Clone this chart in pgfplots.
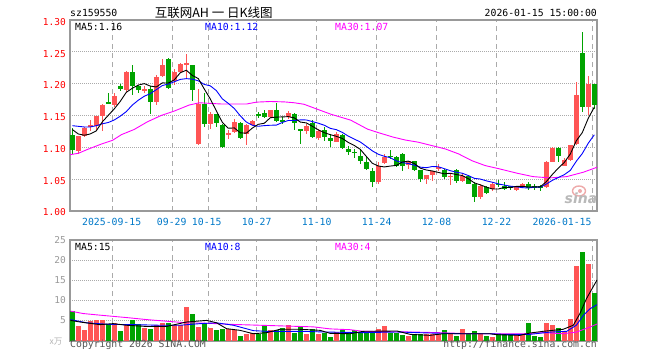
\documentclass[border=0pt]{standalone}
\usepackage{pgfplots}
\pgfplotsset{compat=1.18}
\usepackage{pgfplotstable}
\usepackage{fontspec}
\newfontfamily\mono{DejaVu Sans Mono}
\newfontfamily\cjk{Noto Sans CJK SC}
\newfontfamily\sinaf{DejaVu Sans}
\definecolor{cup}{RGB}{255,85,85}
\definecolor{cdn}{RGB}{0,163,0}
\definecolor{framec}{RGB}{153,153,153}
\definecolor{gridc}{RGB}{170,170,170}
\definecolor{xlab}{RGB}{0,120,200}
\definecolor{maten}{RGB}{0,0,255}
\definecolor{mathirty}{RGB}{255,0,255}
\definecolor{copyc}{RGB}{85,85,85}

\pgfplotstableread{
i o h l c v
-6 1.095 1.118 1.089 1.118 3.64
-5 1.118 1.132 1.116 1.131 2.64
-4 1.133 1.143 1.126 1.135 4.88
-3 1.134 1.150 1.128 1.1495 5.12
-2 1.1495 1.168 1.126 1.1667 5.12
0 1.166 1.185 1.164 1.180 4.46
2 1.190 1.220 1.187 1.218 4.13
5 1.1895 1.197 1.186 1.1912 3.22
7 1.1708 1.213 1.166 1.211 4.05
8 1.2125 1.2386 1.2110 1.2297 4.46
10 1.2047 1.223 1.1985 1.2188 4.05
11 1.2177 1.2330 1.2170 1.2308 4.05
12 1.2305 1.2464 1.2089 1.2320 8.43
14 1.106 1.191 1.104 1.168 3.47
16 1.137 1.155 1.129 1.1527 3.22
19 1.1203 1.128 1.1125 1.1218 2.89
20 1.124 1.144 1.122 1.1395 2.81
22 1.1203 1.137 1.103 1.1355 1.82
23 1.1344 1.1422 1.1336 1.1406 2.07
26 1.1474 1.1588 1.1462 1.158 2.64
29 1.1474 1.157 1.145 1.1536 3.88
32 1.125 1.1365 1.121 1.1339 1.65
34 1.1146 1.1286 1.1115 1.125 1.65
37 1.109 1.1234 1.1078 1.1208 2.23
44 1.045 1.0766 1.0417 1.0714 2.89
45 1.076 1.0896 1.0740 1.0844 3.72
49 1.0729 1.0790 1.0660 1.0790 1.16
52 1.0495 1.0573 1.0417 1.0573 1.65
53 1.0568 1.0635 1.0469 1.0635 1.65
54 1.0670 1.0740 1.0635 1.0685 1.65
56 1.0535 1.0594 1.0401 1.0550 1.65
58 1.0469 1.0594 1.0453 1.0557 3.06
61 1.0219 1.0417 1.0182 1.0385 1.65
63 1.0339 1.0453 1.0313 1.0417 0.91
67 1.0323 1.0380 1.0307 1.0375 1.40
68 1.0375 1.0438 1.0365 1.0427 1.65
72 1.0375 1.0792 1.0365 1.0776 4.46
73 1.0776 1.1000 1.0766 1.099 3.97
75 1.0714 1.0828 1.0703 1.0802 2.56
76 1.0802 1.1036 1.0786 1.1036 5.37
77 1.1052 1.2026 1.1042 1.1818 18.6
79 1.164 1.212 1.1505 1.20 19.0
}\up

\pgfplotstableread{
i o h l c v
-7 1.120 1.130 1.090 1.096 7.36
-1 1.1708 1.186 1.168 1.1690 4.13
1 1.197 1.199 1.188 1.191 2.40
3 1.2177 1.2297 1.183 1.197 5.29
4 1.197 1.198 1.186 1.1906 4.13
6 1.1917 1.196 1.1527 1.172 2.89
9 1.2395 1.2400 1.191 1.193 4.46
13 1.2297 1.2300 1.1734 1.1906 6.61
15 1.1683 1.185 1.132 1.137 4.13
17 1.1516 1.153 1.132 1.1386 2.64
18 1.1355 1.137 1.099 1.1005 3.06
21 1.138 1.140 1.1135 1.1145 1.24
24 1.1518 1.1557 1.1453 1.1503 1.82
25 1.1536 1.1588 1.1462 1.1474 3.72
27 1.159 1.169 1.1396 1.1406 2.64
28 1.1427 1.1474 1.137 1.1412 3.22
30 1.1530 1.1547 1.127 1.1375 1.98
31 1.1286 1.1286 1.106 1.125 3.64
33 1.139 1.1427 1.1146 1.1156 3.06
35 1.127 1.1313 1.1094 1.1156 1.98
36 1.1146 1.1208 1.1010 1.1094 0.99
38 1.1198 1.1208 1.0974 1.099 2.64
39 1.0974 1.1026 1.0885 1.0932 2.07
40 1.0930 1.0974 1.0833 1.0915 2.64
41 1.0865 1.0974 1.0740 1.079 2.23
42 1.077 1.0844 1.0640 1.066 2.23
43 1.0635 1.0677 1.0375 1.045 2.23
46 1.0870 1.0958 1.0820 1.0855 1.98
47 1.0844 1.0870 1.0688 1.0714 1.98
48 1.0896 1.0906 1.0630 1.0714 1.40
50 1.079 1.0790 1.0635 1.065 1.65
51 1.0646 1.0646 1.0453 1.0495 1.65
55 1.0646 1.0662 1.0495 1.0542 2.64
57 1.0646 1.0662 1.0443 1.0469 1.16
59 1.0557 1.0573 1.0417 1.0427 1.65
60 1.0417 1.0453 1.0140 1.0219 2.40
62 1.0375 1.0391 1.0261 1.0286 1.16
64 1.0425 1.0490 1.0375 1.0410 1.65
65 1.040 1.0453 1.0323 1.035 1.65
66 1.039 1.040 1.0323 1.037 1.40
69 1.0427 1.0453 1.0323 1.0365 4.46
70 1.0391 1.0417 1.0323 1.036 1.16
71 1.0385 1.0401 1.0313 1.0370 0.91
74 1.099 1.1000 1.0776 1.087 3.14
78 1.2474 1.2807 1.1557 1.1635 22.07
80 1.199 1.200 1.160 1.1667 11.82
}\down

\pgfplotstableread{
i m
-7 1.128
-6 1.121
-5 1.119
-4 1.121
-3 1.1259
-2 1.1400
-1 1.1503
0 1.1605
1 1.1723
2 1.1864
3 1.1928
4 1.1978
5 1.2001
6 1.1962
7 1.1948
8 1.2012
9 1.2010
10 1.2060
11 1.2172
12 1.2211
13 1.2130
14 1.2080
15 1.1916
16 1.1760
17 1.1574
18 1.1394
19 1.1300
20 1.1305
21 1.1228
22 1.1222
23 1.1302
24 1.1362
25 1.1378
26 1.1465
27 1.1475
28 1.1478
29 1.1482
30 1.1463
31 1.1397
32 1.1384
33 1.1331
34 1.1275
35 1.1230
36 1.1199
37 1.1173
38 1.1140
39 1.1076
40 1.1029
41 1.0968
42 1.0858
43 1.0750
44 1.0707
45 1.0692
46 1.0706
47 1.0716
48 1.0769
49 1.0784
50 1.0746
51 1.0673
52 1.0644
53 1.0629
54 1.0606
55 1.0584
56 1.0593
57 1.0573
58 1.0557
59 1.0507
60 1.0442
61 1.0411
62 1.0375
63 1.0347
64 1.0345
65 1.0371
66 1.0368
67 1.0386
68 1.0388
69 1.0377
70 1.0379
71 1.0380
72 1.0461
73 1.0573
74 1.0674
75 1.0763
76 1.0895
77 1.1103
78 1.1232
79 1.1458
80 1.1631
}\mafive

\pgfplotstableread{
i m
-7 1.134
-6 1.133
-5 1.132
-4 1.132
-3 1.134
-2 1.137
-1 1.139
0 1.143
1 1.149
2 1.1561
3 1.1664
4 1.1740
5 1.1803
6 1.1843
7 1.1906
8 1.1970
9 1.1994
10 1.2030
11 1.2067
12 1.2079
13 1.2071
14 1.2045
15 1.1988
16 1.1966
17 1.1892
18 1.1762
19 1.1690
20 1.1610
21 1.1494
22 1.1398
23 1.1348
24 1.1331
25 1.1341
26 1.1347
27 1.1349
28 1.1390
29 1.1422
30 1.1421
31 1.1431
32 1.1430
33 1.1405
34 1.1379
35 1.1347
36 1.1298
37 1.1278
38 1.1235
39 1.1176
40 1.1130
41 1.1084
42 1.1016
43 1.0945
44 1.0891
45 1.0860
46 1.0837
47 1.0787
48 1.0760
49 1.0746
50 1.0719
51 1.0689
52 1.0680
53 1.0699
54 1.0695
55 1.0665
56 1.0633
57 1.0609
58 1.0593
59 1.0557
60 1.0513
61 1.0502
62 1.0474
63 1.0452
64 1.0426
65 1.0407
66 1.0390
67 1.0380
68 1.0367
69 1.0361
70 1.0375
71 1.0374
72 1.0423
73 1.0481
74 1.0526
75 1.0571
76 1.0638
77 1.0782
78 1.0903
79 1.1066
80 1.1197
}\maten

\pgfplotstableread{
i m
-7.38 1.0885
-6 1.0906
-4.5 1.0966
-2.2 1.105
-0.3 1.111
1.2 1.120
3.3 1.128
5.5 1.140
7.8 1.150
10 1.157
12.5 1.1665
14.2 1.170
16 1.169
18 1.168
20 1.168
22 1.168
23.7 1.171
26 1.172
28.3 1.1714
30 1.170
31.6 1.1677
33.8 1.160
36.1 1.152
39.4 1.1427
42.2 1.1286
43.9 1.1234
46.5 1.1160
48.5 1.1115
50.7 1.108
53 1.1026
55.2 1.0974
57.4 1.0896
59.6 1.079
61.8 1.0714
64.5 1.0655
67.1 1.0594
69.8 1.054
72.6 1.052
75.4 1.054
78.2 1.061
80.45 1.0687
}\mathirty

\pgfplotstableread{
i m
-7.3 5.1
-5.7 4.7
-2.4 4.05
-0.2 4.3
2.05 3.9
5.4 3.6
8.7 3.6
12.05 4.7
15.4 5.1
17.05 4.5
18.7 3.06
20.95 2.64
23.2 1.8
25.4 2.07
27.6 2.9
30.95 2.9
34.3 2.64
35.95 1.9
39.3 1.8
41.5 2.4
47.1 2.48
49.3 1.65
52.6 1.4
54.8 1.8
62.6 1.8
63.7 1.57
67.6 1.4
69.3 1.98
71.5 2.4
74.8 2.9
76.5 3.9
77.6 6.8
78.7 10.5
79.8 13.4
80.45 15.1
}\vfive

\pgfplotstableread{
i m
-7.3 5.3
-4.6 4.5
-0.7 4.1
3.2 4.05
7.6 3.9
10.95 3.9
14.3 4.3
17.05 4.5
19.85 3.9
23.2 2.56
25.4 2.4
30.95 2.4
35.95 2.2
41.5 2.07
47.1 2.23
52.6 1.98
58 1.8
62.6 1.8
65 1.65
69.3 1.65
72.6 2.2
75.4 2.4
77 3.9
78.2 6.4
79.3 8.0
80.45 9.0
}\vten

\pgfplotstableread{
i m
-7.3 7.4
-5.2 6.8
-2.4 6.4
2.05 5.8
5.4 5.3
8.7 4.9
12.05 4.5
15.4 4.4
19.85 4.1
24.3 3.9
28.7 3.7
33.2 3.5
35.95 3.0
39.3 2.8
41.5 2.4
49.5 2.23
54 2.07
59.3 1.8
68.2 1.8
71.5 2.07
74.8 1.8
77 2.2
79.3 3.47
80.45 4.2
}\vthirty

\pgfplotsset{
  kbase/.style={scale only axis, width=527pt, xmin=-7.383, xmax=80.45,
    axis line style={framec, line width=1.2pt},
    major tick length=0pt,
    xtick={-0.33,9.67,15.67,23.67,33.67,43.67,53.67,63.67,79.67},
    xticklabels={}, yticklabels={},
    xmajorgrids, ymajorgrids,
    x grid style={gridc, line width=1.2pt, dash pattern=on 5pt off 4pt},
    y grid style={gridc, line width=1pt, dash pattern=on 1pt off 1pt},
    clip=true},
  wick/.style={only marks, mark=*, mark size=0pt, mark options={draw=none, fill=none, opacity=0},
    error bars/.cd, y dir=both, y explicit, error mark=none,
    error bar style={line width=1pt, #1}},
  body/.style={only marks, mark=*, mark size=0pt, mark options={draw=none, fill=none, opacity=0},
    error bars/.cd, y dir=both, y explicit, error mark=none,
    error bar style={line width=5pt, #1}},
}

\begin{document}
\begin{tikzpicture}

% price panel
\begin{axis}[kbase, at={(70pt,149pt)}, anchor=south west, height=191pt,
  ymin=1.0, ymax=1.3, ytick={1.05,1.10,1.15,1.20,1.25}]
\addplot[wick=cup] table[x=i, y expr={(\thisrow{h}+\thisrow{l})/2}, y error expr={(\thisrow{h}-\thisrow{l})/2}] {\up};
\addplot[wick=cdn] table[x=i, y expr={(\thisrow{h}+\thisrow{l})/2}, y error expr={(\thisrow{h}-\thisrow{l})/2}] {\down};
\addplot[body=cup] table[x=i, y expr={(\thisrow{o}+\thisrow{c})/2}, y error expr={abs(\thisrow{c}-\thisrow{o})/2}] {\up};
\addplot[body=cdn] table[x=i, y expr={(\thisrow{o}+\thisrow{c})/2}, y error expr={abs(\thisrow{c}-\thisrow{o})/2}] {\down};
\addplot[mathirty, line width=0.9pt, mark=none] table[x=i,y=m] {\mathirty};
\addplot[maten, line width=0.9pt, mark=none] table[x=i,y=m] {\maten};
\addplot[black, line width=0.9pt, mark=none] table[x=i,y=m] {\mafive};
\end{axis}

% volume panel
\begin{axis}[kbase, at={(70pt,19pt)}, anchor=south west, height=101pt,
  ymin=0, ymax=25, ytick={5,10,15,20}]
\addplot[ycomb, cup, line width=5pt, mark=none] table[x=i,y=v] {\up};
\addplot[ycomb, cdn, line width=5pt, mark=none] table[x=i,y=v] {\down};
\addplot[mathirty, line width=0.9pt, mark=none] table[x=i,y=m] {\vthirty};
\addplot[maten, line width=0.9pt, mark=none] table[x=i,y=m] {\vten};
\addplot[black, line width=0.9pt, mark=none] table[x=i,y=m] {\vfive};
\end{axis}

% sina watermark
\draw[color={rgb,255:red,238;green,170;blue,170}, line width=1.4pt] (579pt,169pt) ellipse (6.5pt and 5pt);
\fill[color={rgb,255:red,238;green,170;blue,170}] (580pt,169pt) circle (2pt);
\node[anchor=base, inner sep=0, text=gray!55, font=\fontsize{14}{14}\sinaf\bfseries\itshape] at (581pt,156.7pt) {sina};

% header
\node[anchor=base west, inner sep=0, font=\fontsize{9.8}{10}\mono] at (70pt,343.3pt) {sz159550};
\node[anchor=base, inner sep=0, font=\fontsize{12.5}{13}\cjk] at (213.7pt,343pt) {互联网AH 一 日K线图};
\node[anchor=base east, inner sep=0, font=\fontsize{9.8}{10}\mono] at (597pt,343.3pt) {2026-01-15 15:00:00};

\node[anchor=base west, inner sep=0, font=\fontsize{9.8}{10}\mono] at (75pt,330pt) {MA5:1.16};
\node[anchor=base west, inner sep=0, font=\fontsize{9.8}{10}\mono, text=maten] at (205pt,330pt) {MA10:1.12};
\node[anchor=base west, inner sep=0, font=\fontsize{9.8}{10}\mono, text=mathirty] at (335pt,330pt) {MA30:1.07};

% price tick labels
\foreach \v/\y in {1.30/338, 1.25/306.3, 1.20/274.7, 1.15/242.7, 1.10/210.7, 1.05/178.7, 1.00/147.7}
  \node[anchor=east, inner sep=0, text=red, font=\fontsize{9.5}{10}\mono] at (66pt,\y pt) {\v};

% date labels
\foreach \t/\x in {2025-09-15/111.7, 09-29/171.7, 10-15/206.7, 10-27/256.7, 11-10/316.7, 11-24/376.7, 12-08/436.5, 12-22/496.5}
  \node[anchor=base, inner sep=0, text=xlab, font=\fontsize{9.8}{10}\mono] at (\x pt,135pt) {\t};
\node[anchor=base east, inner sep=0, text=xlab, font=\fontsize{9.8}{10}\mono] at (591.7pt,135pt) {2026-01-15};

% volume tick labels
\foreach \v/\y in {25/119.5, 20/99.5, 15/79.5, 10/59.5, 5/39.5}
  \node[anchor=east, inner sep=0, text=gray!80, font=\fontsize{9.5}{10}\mono] at (66pt,\y pt) {\v};
\node[anchor=center, inner sep=0, text=gray!60, font=\fontsize{8.5}{9}\cjk] at (56pt,18.5pt) {x万};

\node[anchor=base west, inner sep=0, font=\fontsize{9.8}{10}\mono] at (75pt,110pt) {MA5:15};
\node[anchor=base west, inner sep=0, font=\fontsize{9.8}{10}\mono, text=maten] at (205pt,110pt) {MA10:8};
\node[anchor=base west, inner sep=0, font=\fontsize{9.8}{10}\mono, text=mathirty] at (335pt,110pt) {MA30:4};

% footer
\node[anchor=base west, inner sep=0, text=copyc, font=\fontsize{9.8}{10}\mono] at (70pt,12.3pt) {Copyright 2026 SINA.COM};
\node[anchor=base east, inner sep=0, text=copyc, font=\fontsize{9.8}{10}\mono] at (597pt,12.3pt) {http://finance.sina.com.cn};

\path (0pt,0pt) rectangle (660pt,360pt);
\end{tikzpicture}
\end{document}
